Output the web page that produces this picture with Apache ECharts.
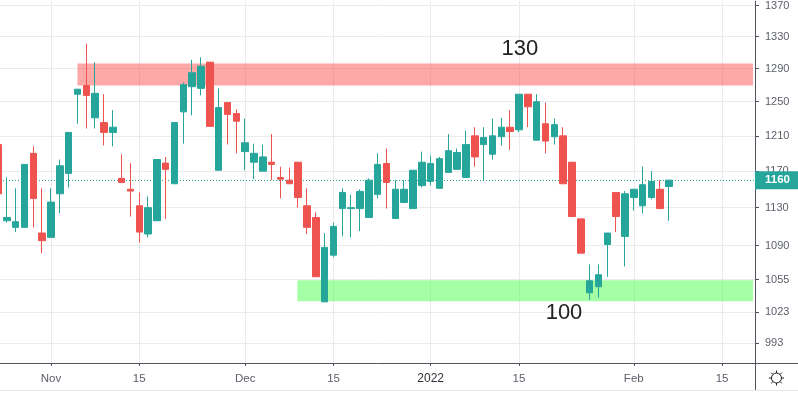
<!DOCTYPE html>
<html><head><meta charset="utf-8">
<style>html,body{margin:0;padding:0;background:#fff}#c{width:798px;height:395px}</style>
<script src="https://cdn.jsdelivr.net/npm/echarts@6/dist/echarts.min.js"></script>
</head><body><div id="c"></div>
<script>
const opens=[1200,1116,1109,1109,1190,1103,1098.5,1145,1167.5,1259,1269.5,1231,1225.5,1214,1162,1150,1132,1102,1116,1179,1156,1238,1268,1266,1298,1171,1249,1236,1192,1180,1170,1180,1163,1160,1180,1132,1119.5,1033,1080,1129,1129,1129,1119.5,1144.4,1178.6,1118.4,1135.6,1129,1154,1158.6,1151,1168.6,1172,1163,1210,1200,1189,1209,1220,1217,1259,1205,1224,1209,1210,1180,1118,1042,1048,1091,1146.5,1099.5,1141,1132,1141,1150,1153];
const closes=[1145,1119.5,1115,1177.5,1140,1095,1136,1176,1214,1265,1257.5,1260,1214,1220,1157.5,1148,1104,1130,1183,1172,1225.5,1270.5,1285,1293,1221,1243,1235,1227,1202,1190,1186,1177.5,1161,1156,1141,1109,1058,1088,1110,1146.5,1130,1147.6,1160,1177.5,1157.5,1150,1150,1171,1180,1178.6,1184,1193,1191,1200,1186,1208,1210,1220,1215,1259,1244,1250,1204,1223,1156,1120.5,1082,1054,1060,1103,1120.5,1145,1150,1155,1158.6,1129,1160];
const lows=[1143,1114,1104,1109,1109,1082,1098.5,1124,1152,1224,1218.5,1218.5,1199,1198,1157.5,1120.5,1093,1098.5,1116,1118,1156,1201,1234,1257.5,1221,1171,1200,1190,1171,1161,1170,1160,1140,1156,1130,1102,1058,1033,1078,1099.5,1098.5,1105,1119.5,1140,1129,1118.4,1135.6,1129,1152,1154,1151,1168.6,1172,1163,1175,1160,1183,1199,1194,1214,1220,1205,1190,1200,1156,1120.5,1082,1035,1037,1058,1104,1068.5,1127,1124,1139,1129,1116];
const highs=[1200,1163,1151,1177.5,1198,1151,1151,1183,1214,1265,1321,1298,1259,1240,1189,1179,1146.5,1142,1183,1186,1225.5,1273,1301,1304,1298,1266,1249,1241,1230,1201,1200,1212,1175,1174,1180,1151,1125,1103,1114,1151,1144,1150,1162,1190,1195.5,1160,1160,1171,1192,1187.5,1186,1212,1195.5,1216,1220,1220,1230,1231,1240,1259,1259,1259,1249,1230,1220,1180,1118,1070.5,1070.5,1103,1146.5,1148,1150,1175,1170,1160,1160];
const xTickIndex=[6,16,28,38,49,59,72,82];
const xTickLabels=['Nov','15','Dec','15','{b|2022}','15','Feb','15'];
const yTicks=[1370,1330,1290,1250,1210,1170,1130,1090,1055,1023,993];
const lastPrice=1160;
const resistanceZone={from:9,to:85.5,high:1296.5,low:1269.5,label:'130',labelAt:[59.1,1315]};
const supportZone={from:33.9,to:85.5,high:1054.5,low:1033.5,label:'100',labelAt:[64.1,1022]};

const axisDark='#50535e', gridC='#e9eaec', textC='#5d606b';
const font='"Liberation Sans"';
const candles=opens.map((o,i)=>[i,o,closes[i],lows[i],highs[i]]);
const gearSpokes=[[776.5,370.5,776.5,373],[776.5,383,776.5,385.5],[769,378,771.5,378],[781.5,378,784,378],[771.2,372.7,773,374.5],[780,381.5,781.8,383.3],[781.8,372.7,780,374.5],[773,381.5,771.2,383.3]];
const chart=echarts.init(document.getElementById('c'),null,{renderer:'canvas'});
chart.setOption({
  animation:false,
  backgroundColor:'#fff',
  grid:{left:0,top:0,width:755,height:363},
  xAxis:{type:'value',min:0.23,max:85.73,
    axisLine:{show:true,onZero:false,lineStyle:{color:axisDark,width:1}},
    axisTick:{show:true,length:3,customValues:xTickIndex,lineStyle:{color:axisDark}},
    splitLine:{show:true,lineStyle:{color:gridC,width:1}},
    axisLabel:{customValues:xTickIndex,margin:10,color:textC,fontFamily:font,fontSize:11.5,
      hideOverlap:false,showMinLabel:true,showMaxLabel:true,
      rich:{b:{fontFamily:font,fontSize:12,color:'#2f3138'}},
      formatter:v=>xTickLabels[xTickIndex.indexOf(v)]??''}},
  yAxis:{type:'log',position:'right',logBase:10,min:974.55,max:1375.6,
    axisLine:{show:true,lineStyle:{color:axisDark,width:1}},
    axisTick:{show:true,inside:false,length:4,customValues:yTicks,lineStyle:{color:axisDark}},
    splitLine:{show:true,lineStyle:{color:gridC,width:1}},
    minorTick:{show:false},minorSplitLine:{show:false},
    axisLabel:{customValues:yTicks,margin:10,color:textC,fontFamily:font,fontSize:11,
      showMinLabel:true,showMaxLabel:true,hideOverlap:false,formatter:v=>String(Math.round(v))}},
  series:[
    {type:'line',data:[],z:1,silent:true,
     markArea:{silent:true,z:1,data:[
       [{coord:[resistanceZone.from,resistanceZone.high],itemStyle:{color:'rgba(255,82,82,0.5)'}},{coord:[resistanceZone.to,resistanceZone.low]}],
       [{coord:[supportZone.from,supportZone.high],itemStyle:{color:'rgba(76,255,76,0.5)'}},{coord:[supportZone.to,supportZone.low]}]
     ]},
     markLine:{silent:true,symbol:'none',z:1,animation:false,
       lineStyle:{color:'#26a69a',type:[1,2],width:1},
       label:{show:true,position:'end',distance:0,formatter:String(lastPrice),color:'#fff',fontFamily:font,fontSize:11.5,fontWeight:'bold',
         backgroundColor:'#26a69a',width:33,height:18,lineHeight:18,align:'left',padding:[0,0,0,10]},
       data:[{yAxis:lastPrice}]},
     markPoint:{silent:true,symbol:'circle',symbolSize:0,
       label:{show:true,position:'inside',color:'#222',fontFamily:font,fontSize:22},
       data:[{coord:resistanceZone.labelAt,value:resistanceZone.label},{coord:supportZone.labelAt,value:supportZone.label}]}
    },
    {type:'candlestick',z:3,barWidth:7,clip:true,data:candles,
     encode:{x:0,y:[1,2,3,4]},
     itemStyle:{color:'#26a69a',color0:'#ef5350',borderColor:'#26a69a',borderColor0:'#ef5350',borderWidth:1}}
  ],
  graphic:[
    {type:'line',shape:{x1:755.5,y1:363,x2:755.5,y2:390},style:{stroke:axisDark,lineWidth:1},silent:true},
    {type:'line',shape:{x1:755,y1:363.5,x2:798,y2:363.5},style:{stroke:axisDark,lineWidth:1},silent:true},
    {type:'line',shape:{x1:0,y1:390.5,x2:798,y2:390.5},style:{stroke:gridC,lineWidth:1},silent:true},
    {type:'circle',shape:{cx:776.5,cy:378,r:5},style:{fill:'none',stroke:'#222',lineWidth:1},silent:true}
  ].concat(gearSpokes.map(s=>({type:'line',shape:{x1:s[0],y1:s[1],x2:s[2],y2:s[3]},style:{stroke:'#222',lineWidth:1},silent:true})))
});
</script></body></html>
